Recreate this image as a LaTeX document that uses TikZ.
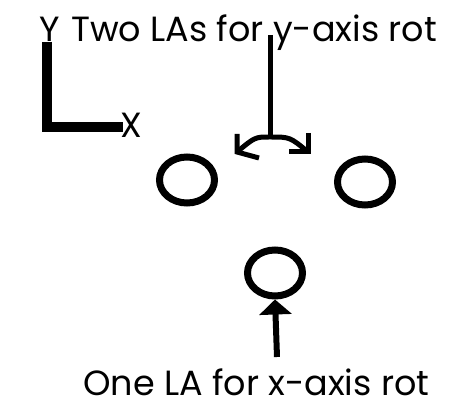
\documentclass[tikz,border=0pt]{standalone}
\usetikzlibrary{shapes.geometric,arrows.meta}
\usepackage{fontspec}
\setmainfont{Poppins}
\begin{document}
\begin{tikzpicture}[x=1pt,y=-1pt,
  lbl/.style={inner sep=0pt,anchor=base west,font=\fontsize{35}{40}\selectfont},
  la/.style={draw,line width=7pt,ellipse,minimum width=55pt,minimum height=46pt,inner sep=0pt},
  thin/.style={line width=5pt}]
\useasboundingbox (0,0) rectangle (451,409);
\node[lbl] (ylab) at (39,42) {Y};
\node[lbl] (top) at (71,42) {Two LAs for y-axis rot};
\node[lbl] (xlab) at (120,138) {X};
\node[lbl] (bot) at (83,396) {One LA for x-axis rot};
\coordinate (o) at (47,42);
\coordinate (corner) at (47,127);
\coordinate (xend) at (123,127);
\draw[line width=10pt] (o) -- (corner) -- (xend);
\node[la] (l1) at (187,180) {};
\node[la] (l2) at (365,182) {};
\node[la] (l3) at (275,273) {};
\coordinate (vtop) at (270,35);
\coordinate (vbot) at (270,137);
\draw[thin] (vtop) -- (vbot);
\coordinate (lt) at (237,152);
\coordinate (rt) at (308,152);
\draw[thin] (vbot) .. controls (255,137) .. (lt);
\draw[thin] (vbot) .. controls (290,137) .. (rt);
\draw[thin,line join=miter] (237,134) -- (lt) -- (259,158);
\draw[thin,line join=miter] (308,133) -- (rt) -- (289,152);
\coordinate (abot) at (277,357);
\draw[line width=6pt,-{Triangle[width=32pt,length=15pt]}] (abot) -- (l3.south);
\end{tikzpicture}
\end{document}
